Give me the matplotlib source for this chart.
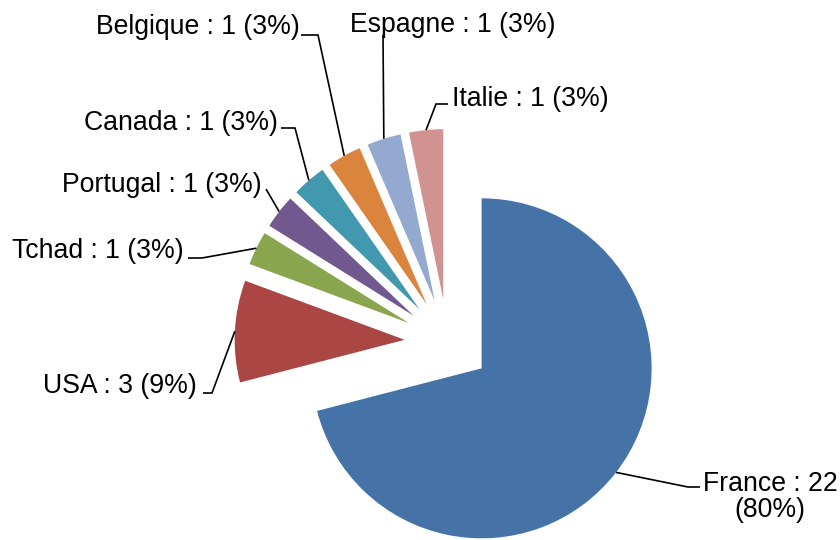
import numpy as np
import matplotlib
matplotlib.use('Agg')
import matplotlib.pyplot as plt

plt.rcParams['font.family'] = ['Liberation Sans', 'DejaVu Sans']

countries = ['France', 'USA', 'Tchad', 'Portugal', 'Canada', 'Belgique', 'Espagne', 'Italie']
counts = [22, 3, 1, 1, 1, 1, 1, 1]
pct_labels = ['80%', '9%', '3%', '3%', '3%', '3%', '3%', '3%']
colors = ['#4572A7', '#AA4643', '#89A54E', '#71588F', '#4198AF', '#DB843D', '#93A9CF', '#D19392']

W, H = 840, 540
CX, CY, R = 447.6, 342, 170   # pie centre and radius in pixels
EXPLODE = 0.253


def px(x, y):
    # pixel (top-left origin) -> data coords (pie centre = 0, radius = 1)
    return (x - CX) / R, (CY - y) / R


# label layout: text anchor (px), alignment, elbow points of leader line (px)
label_layout = {
    'France':   ((770, 497), 'center', 'center',   [(700, 487), (688, 487)]),
    'USA':      ((197, 393), 'right',  'baseline', [(203, 393), (212, 393)]),
    'Tchad':    ((184, 258), 'right',  'baseline', [(188, 258), (202, 258)]),
    'Portugal': ((262, 192), 'right',  'baseline', [(266, 189)]),
    'Canada':   ((278, 130), 'right',  'baseline', [(281, 128), (295, 128)]),
    'Belgique': ((300, 34),  'right',  'baseline', [(301, 35), (318, 35)]),
    'Espagne':  ((350, 32),  'left',   'baseline', [(383, 35)]),
    'Italie':   ((452, 106), 'left',   'baseline', [(448, 104), (436, 104)]),
}

fig = plt.figure(figsize=(W / 100, H / 100), dpi=100)
ax = fig.add_axes([0, 0, 1, 1])

wedges, _ = ax.pie(counts, colors=colors, startangle=90, counterclock=False,
                   explode=[EXPLODE] * len(counts), radius=1,
                   wedgeprops=dict(linewidth=0))

x0, y0 = px(0, H)
x1, y1 = px(W, 0)
ax.set_xlim(x0, x1)
ax.set_ylim(y0, y1)
ax.set_aspect('auto')
ax.axis('off')

for name, n, pct, w in zip(countries, counts, pct_labels, wedges):
    mid = np.deg2rad((w.theta1 + w.theta2) / 2)
    cx, cy = w.center
    anchor = (cx + w.r * np.cos(mid), cy + w.r * np.sin(mid))

    (tx, ty), ha, va, elbows = label_layout[name]
    pts = [px(*p) for p in elbows] + [anchor]
    ax.plot([p[0] for p in pts], [p[1] for p in pts], color='black', lw=1.2,
            solid_capstyle='butt', solid_joinstyle='miter')

    if name == 'France':
        text = f'{name} : {n}\n({pct})'
    else:
        text = f'{name} : {n} ({pct})'
    ax.text(*px(tx, ty), text, ha=ha, va=va, fontsize=19.2,
            color='black', linespacing=1.0, multialignment='center')

fig.savefig('out.png', dpi=100)
